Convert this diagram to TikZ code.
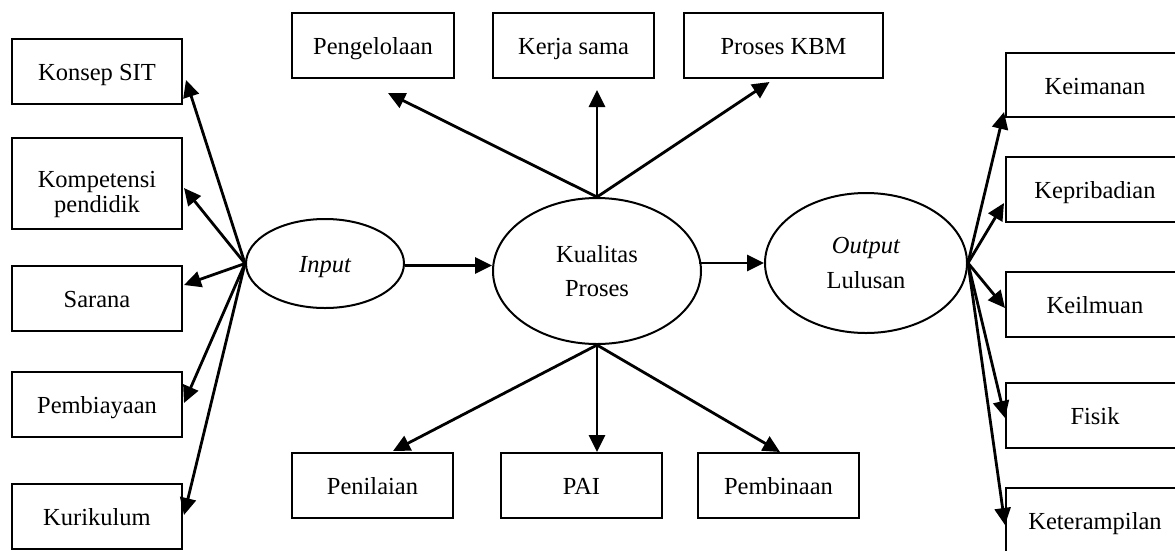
\documentclass[tikz,border=0pt]{standalone}
\usepackage{fontspec}
\setmainfont{Liberation Serif}
\usetikzlibrary{shapes.geometric,arrows.meta}
\tikzset{
  boxnode/.style={draw, line width=2pt, rectangle, inner sep=0pt, align=center,
    minimum height=65pt, text height=21pt, text depth=3pt,
    font=\fontsize{24.5}{25}\selectfont},
  ellnode/.style={draw, ellipse, line width=2pt, inner sep=0pt, align=center,
    font=\fontsize{24.5}{34}\selectfont},
  arr/.style={-{Triangle[length=17pt,width=16pt]}, line width=2.8pt}
}
\begin{document}
\begin{tikzpicture}[x=1pt,y=-1pt]
\useasboundingbox (0,0) rectangle (1175,550);
\clip (0,0) rectangle (1175,550);
% left boxes
\node[boxnode, minimum width=170pt] (konsep) at (97,71.5) {Konsep SIT};
\node[boxnode, minimum width=170pt, minimum height=91pt, text height=60pt, text depth=3pt] (komp) at (97,183.5) {Kompetensi\\pendidik};
\node[boxnode, minimum width=170pt] (sarana) at (97,298.5) {Sarana};
\node[boxnode, minimum width=170pt] (pemb) at (97,404.5) {Pembiayaan};
\node[boxnode, minimum width=170pt] (kuri) at (97,516) {Kurikulum};
% ellipses
\node[ellnode, minimum width=158pt, minimum height=89pt, text height=21pt, text depth=3pt] (inp) at (325,263.5) {\itshape Input};
\node[ellnode, minimum width=208pt, minimum height=146pt] (kual) at (597,271) {Kualitas\\Proses};
\node[ellnode, minimum width=202pt, minimum height=140pt] (out) at (866,263) {\itshape Output\\Lulusan};
% top boxes
\node[boxnode, minimum width=162pt] (peng) at (373,45.5) {Pengelolaan};
\node[boxnode, minimum width=161pt] (kerja) at (573.5,45.5) {Kerja sama};
\node[boxnode, minimum width=199pt] (kbm) at (783.5,45.5) {Proses KBM};
% bottom boxes
\node[boxnode, minimum width=161pt] (penil) at (372.5,485.5) {Penilaian};
\node[boxnode, minimum width=161pt] (pai) at (581.5,485.5) {PAI};
\node[boxnode, minimum width=161pt] (pembin) at (778.5,485.5) {Pembinaan};
% right boxes
\node[boxnode, minimum width=178pt, minimum height=64pt] (keiman) at (1095,85) {Keimanan};
\node[boxnode, minimum width=178pt] (kepri) at (1095,189.5) {Kepribadian};
\node[boxnode, minimum width=178pt] (keilm) at (1095,304) {Keilmuan};
\node[boxnode, minimum width=178pt] (fisik) at (1095,415.5) {Fisik};
\node[boxnode, minimum width=178pt] (ketr) at (1095,520.5) {Keterampilan};
% tip coordinates
\coordinate (tkonsep) at ([shift={(3,8.5)}]konsep.east);
\coordinate (tkomp) at ([shift={(1,4.5)}]komp.east);
\coordinate (tsarana) at ([shift={(1,-13.5)}]sarana.east);
\coordinate (tpemb) at ([shift={(1,-1.5)}]pemb.east);
\coordinate (tkuri) at ([shift={(1,-1)}]kuri.east);
\coordinate (tpeng) at ([shift={(15,14)}]peng.south);
\coordinate (kerjab) at ([shift={(0,11)}]kerja.south);
\coordinate (tkerja) at (kual.north |- kerjab);
\coordinate (tkbm) at ([shift={(-14,3)}]kbm.south);
\coordinate (tpenil) at ([shift={(20.5,-1)}]penil.north);
\coordinate (tpai) at (kual.south |- pai.north);
\coordinate (tpembin) at ([shift={(1.5,0)}]pembin.north);
\coordinate (tkeiman) at ([shift={(-1,27)}]keiman.west);
\coordinate (tkepri) at ([shift={(-1,13.5)}]kepri.west);
\coordinate (tkeilm) at ([shift={(0,4)}]keilm.west);
\coordinate (tfisik) at ([shift={(0,2.5)}]fisik.west);
\coordinate (tketr) at ([shift={(0,4.5)}]ketr.west);
% left fan
\foreach \t in {tkonsep,tkomp,tsarana,tpemb,tkuri}
  \draw[arr] (inp.west) -- (\t);
% main flow
\draw[arr] ([yshift=-2pt]inp.east) -- ([yshift=-2pt]inp.east -| kual.west);
\draw[arr] ([xshift=-3pt]kual.east |- out.west) -- (out.west);
% top and bottom fans
\foreach \t in {tpeng,tkerja,tkbm}
  \draw[arr] (kual.north) -- (\t);
\foreach \t in {tpenil,tpai,tpembin}
  \draw[arr] (kual.south) -- (\t);
% right fan
\foreach \t in {tkeiman,tkepri,tkeilm,tfisik,tketr}
  \draw[arr] (out.east) -- (\t);
\end{tikzpicture}
\end{document}
